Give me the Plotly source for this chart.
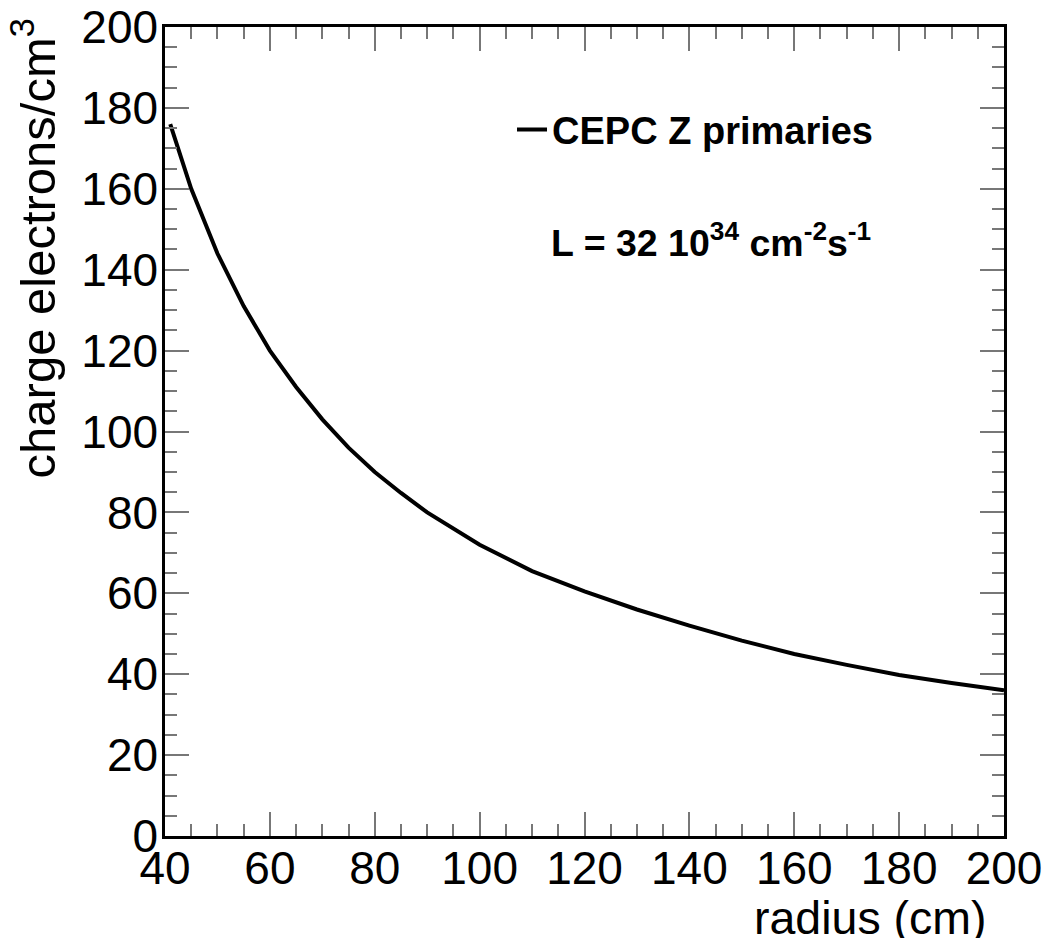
import plotly.graph_objects as go

radius = [41, 45, 50, 55, 60, 65, 70, 75, 80, 85, 90, 95, 100, 110, 120, 130,
          140, 150, 160, 170, 180, 190, 200]
charge = [176, 160, 144, 131, 120, 111, 103, 96, 90, 84.8, 80, 76, 72, 65.5, 60.5,
          56, 52, 48.3, 45, 42.3, 39.8, 37.8, 36]

FONT = "Liberation Sans, Arial, Helvetica, sans-serif"

fig = go.Figure()
fig.add_trace(go.Scatter(x=radius, y=charge, mode="lines",
                         line=dict(color="black", width=4),
                         name="<b>CEPC Z primaries</b>"))

axis_common = dict(
    showgrid=False, zeroline=False, showline=True, linecolor="black", linewidth=2.5,
    mirror="allticks", ticks="inside", ticklen=24, tickwidth=2, tickcolor="#777777",
    tickfont=dict(size=46, color="black", family=FONT), automargin=False,
)

fig.update_xaxes(range=[40, 200], dtick=20, tick0=40,
                 minor=dict(dtick=5, ticks="inside", ticklen=12, tickwidth=2, tickcolor="#777777"),
                 ticklabelstandoff=-10, **axis_common)
fig.update_yaxes(range=[0, 200], dtick=20, tick0=0,
                 minor=dict(dtick=5, ticks="inside", ticklen=12, tickwidth=2, tickcolor="#777777"),
                 ticklabelstandoff=-5, **axis_common)

fig.add_annotation(text="charge electrons/cm<sup>3</sup>", textangle=-90,
                   xref="paper", yref="paper", x=-0.155, y=1.013, xanchor="center", yanchor="top",
                   showarrow=False, font=dict(size=49, color="black", family=FONT))
fig.add_annotation(text="radius (cm)", xref="paper", yref="paper", x=0.982, y=-0.101,
                   xanchor="right", yanchor="middle", showarrow=False,
                   font=dict(size=46.5, color="black", family=FONT))
fig.add_annotation(text="<b>L = 32 10<sup>34</sup> cm<sup>-2</sup>s<sup>-1</sup></b>",
                   xref="paper", yref="paper", x=0.458, y=0.737, xanchor="left", yanchor="middle",
                   showarrow=False, font=dict(size=37.5, color="black", family=FONT))

fig.update_layout(
    width=1048, height=938,
    margin=dict(l=165, r=44, t=27, b=102),
    paper_bgcolor="white", plot_bgcolor="white",
    showlegend=True,
    legend=dict(x=0.4136, y=0.873, xanchor="left", yanchor="middle",
                bgcolor="rgba(0,0,0,0)", font=dict(size=38, color="black", family=FONT)),
    font=dict(family=FONT, color="black"),
)

fig.write_html("out.html", config={"displayModeBar": False},
               post_script="document.body.style.margin='0';document.body.style.padding='0';")
